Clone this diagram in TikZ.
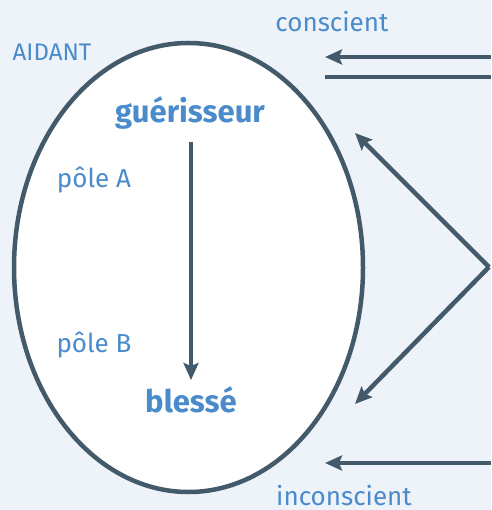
\documentclass[tikz,border=0pt]{standalone}
\usepackage{fontspec}
\setmainfont{Fira Sans}
\usetikzlibrary{arrows.meta,shapes.geometric}
\definecolor{bg}{HTML}{EEF3FA}
\definecolor{ln}{HTML}{435A6B}
\definecolor{tx}{HTML}{4A8BCB}
\tikzset{
  lbl/.style={text=tx, font=\fontsize{26}{30}\selectfont, inner sep=0pt},
  capl/.style={text=tx, font=\fontsize{24}{28}\selectfont, inner sep=0pt},
  big/.style={text=tx, font=\bfseries\fontsize{31}{36}\selectfont, inner sep=0pt},
  conn/.style={draw=ln, line width=4.5pt},
  arr/.style={conn, -{Stealth[length=17pt,width=15pt,inset=3pt]}}
}
\begin{document}
\begin{tikzpicture}[x=1pt,y=-1pt]
\fill[bg] (0,0) rectangle (491,510);
\useasboundingbox (0,0) rectangle (491,510);
\node[ellipse, draw=ln, line width=4.5pt, fill=white, minimum width=349pt, minimum height=449pt, inner sep=0pt] (ell) at (188.5,267.5) {};
\node[lbl] (cons) at (332,22) {conscient};
\node[lbl] (incons) at (344,496) {inconscient};
\node[capl] (aidant) at (52,52) {AIDANT};
\node[big] (guer) at (190,113) {guérisseur};
\node[big] (bles) at (191,400) {blessé};
\node[lbl] (pa) at (94,180) {pôle A};
\node[lbl] (pb) at (94,345) {pôle B};
\coordinate (t1r) at (491,57);
\coordinate (t1l) at (325,57);
\coordinate (t2r) at (491,77);
\coordinate (t2l) at (325,77);
\coordinate (br) at (491,463);
\coordinate (bl) at (325,463);
\coordinate (apex) at (489,267);
\coordinate (up) at (355,133);
\coordinate (dn) at (355,404);
\coordinate (vtop) at (191,142);
\coordinate (vbot) at (191,380);
\draw[arr] (t1r) -- (t1l);
\draw[conn] (t2l) -- (t2r);
\draw[arr] (br) -- (bl);
\draw[arr] (apex) -- (up);
\draw[arr] (apex) -- (dn);
\draw[arr] (vtop) -- (vbot);
\end{tikzpicture}
\end{document}
